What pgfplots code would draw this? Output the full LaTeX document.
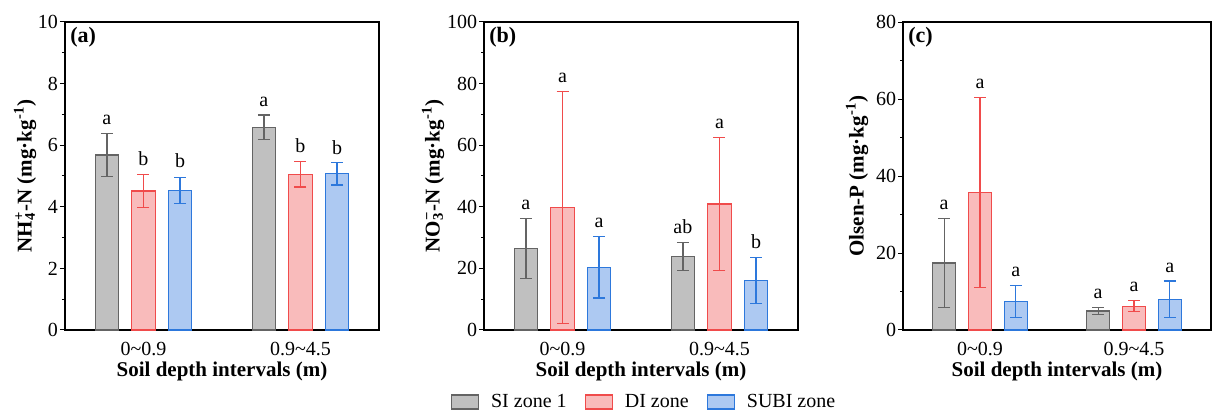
\documentclass[border=0pt]{standalone}
\usepackage{fontspec}
\setmainfont{Liberation Serif}
\usepackage{pgfplots}
\pgfplotsset{compat=1.18}

\definecolor{siF}{RGB}{192,192,192}
\definecolor{siE}{RGB}{100,100,100}
\definecolor{diF}{RGB}{249,187,187}
\definecolor{diE}{RGB}{240,75,75}
\definecolor{subF}{RGB}{173,201,242}
\definecolor{subE}{RGB}{45,120,220}

\pgfplotsset{
  panel/.style={
    scale only axis, width=157pt, height=154pt,
    xmin=-0.5, xmax=1.5, ymin=0, clip=false,
    axis line style={line width=0.6pt},
    xtick={0,1}, xticklabels={0\textasciitilde0.9, 0.9\textasciitilde4.5},
    major x tick style={draw=none},
    tick align=outside, ytick pos=left, xtick pos=bottom,
    minor y tick num=1, major tick length=2.5pt, minor tick length=1.5pt,
    tick style={black, line width=0.5pt},
    yticklabel style={inner sep=0.8pt},
    /pgf/number format/assume math mode=true,
    tick label style={font=\fontsize{10}{12}\selectfont},
    label style={font=\bfseries\fontsize{10.5}{12}\selectfont},
    xlabel={Soil depth intervals (m)},
    xlabel style={at={(axis description cs:0.5,-0.136)}, anchor=center},
  },
  bars/.style 2 args={ybar, bar width=11.75pt, bar shift=0pt, fill=#1, draw=#2,
    line width=0.6pt, forget plot,
    error bars/.cd, y dir=both, y explicit, error mark=|,
    error bar style={color=#2, line width=0.6pt},
    error mark options={color=#2, line width=0.6pt, mark size=3pt}},
  letters/.style={draw=none, mark=none, forget plot, nodes near coords,
    point meta=explicit symbolic,
    nodes near coords style={anchor=base, inner sep=0pt, yshift=4.5pt,
      font=\fontsize{10}{12}\selectfont, text=black}},
  boxlegend/.style={legend image code/.code={
    \draw[##1, line width=0.6pt] (0pt,-3.5pt) rectangle (13.5pt,3.5pt);}},
}

\begin{document}
\begin{tikzpicture}
\useasboundingbox (0,0) rectangle (606pt,206pt);

% (a) NH4+-N
\begin{axis}[panel, at={(32.5pt,41pt)}, anchor=south west,
  ymax=10, ytick={0,2,...,10},
  ylabel={NH\rlap{\textsubscript{4}}\textsuperscript{+}-N (mg·kg\textsuperscript{-1})},
  ylabel style={at={(axis description cs:-0.127,0.5)}, anchor=center}]
\addplot[bars={siF}{siE}] coordinates {(-0.233,5.68) +- (0,0.70) (0.767,6.58) +- (0,0.40)};
\addplot[bars={diF}{diE}] coordinates {(0,4.51) +- (0,0.53) (1,5.06) +- (0,0.42)};
\addplot[bars={subF}{subE}] coordinates {(0.233,4.54) +- (0,0.42) (1.233,5.07) +- (0,0.36)};
\addplot[letters] coordinates {(-0.233,6.37) [a] (0,5.04) [b] (0.233,4.97) [b]
  (0.767,6.97) [a] (1,5.47) [b] (1.233,5.42) [b]};
\node[anchor=north west, inner sep=2.5pt, font=\bfseries\fontsize{11}{12}\selectfont]
  at (rel axis cs:0,1) {(a)};
\end{axis}

% (b) NO3--N
\begin{axis}[panel, at={(242pt,41pt)}, anchor=south west,
  ymax=100, ytick={0,20,...,100},
  ylabel={NO\rlap{\textsubscript{3}}\textsuperscript{−}-N (mg·kg\textsuperscript{-1})},
  ylabel style={at={(axis description cs:-0.162,0.5)}, anchor=center},
  legend columns=3,
  legend style={draw=none, fill=none, at={(0.513,-0.234)}, anchor=center,
    font=\fontsize{10}{12}\selectfont,
    /tikz/every odd column/.append style={column sep=4pt},
    /tikz/every even column/.append style={column sep=7pt}}]
\addlegendimage{boxlegend, fill=siF, draw=siE}
\addlegendimage{boxlegend, fill=diF, draw=diE}
\addlegendimage{boxlegend, fill=subF, draw=subE}
\addplot[bars={siF}{siE}] coordinates {(-0.233,26.4) +- (0,9.7) (0.767,23.8) +- (0,4.6)};
\addplot[bars={diF}{diE}] coordinates {(0,39.8) +- (0,37.6) (1,40.9) +- (0,21.7)};
\addplot[bars={subF}{subE}] coordinates {(0.233,20.4) +- (0,10.0) (1.233,16.1) +- (0,7.4)};
\addplot[letters] coordinates {(-0.233,36.1) [a] (0,77.4) [a] (0.233,30.4) [a]
  (0.767,28.4) [ab] (1,62.6) [a] (1.233,23.5) [b]};
\legend{SI zone 1, DI zone, SUBI zone}
\node[anchor=north west, inner sep=2.5pt, font=\bfseries\fontsize{11}{12}\selectfont]
  at (rel axis cs:0,1) {(b)};
\end{axis}

% (c) Olsen-P
\begin{axis}[panel, at={(451.5pt,41pt)}, anchor=south west, width=154pt,
  ymax=80, ytick={0,20,...,80},
  ylabel={Olsen-P (mg·kg\textsuperscript{-1})},
  ylabel style={at={(axis description cs:-0.149,0.5)}, anchor=center}]
\addplot[bars={siF}{siE}] coordinates {(-0.233,17.4) +- (0,11.5) (0.767,4.93) +- (0,0.9)};
\addplot[bars={diF}{diE}] coordinates {(0,35.7) +- (0,24.7) (1,6.2) +- (0,1.4)};
\addplot[bars={subF}{subE}] coordinates {(0.233,7.35) +- (0,4.15) (1.233,7.96) +- (0,4.75)};
\addplot[letters] coordinates {(-0.233,28.9) [a] (0,60.5) [a] (0.233,11.5) [a]
  (0.767,5.9) [a] (1,7.6) [a] (1.233,12.7) [a]};
\node[anchor=north west, inner sep=2.5pt, font=\bfseries\fontsize{11}{12}\selectfont]
  at (rel axis cs:0,1) {(c)};
\end{axis}
\end{tikzpicture}
\end{document}
